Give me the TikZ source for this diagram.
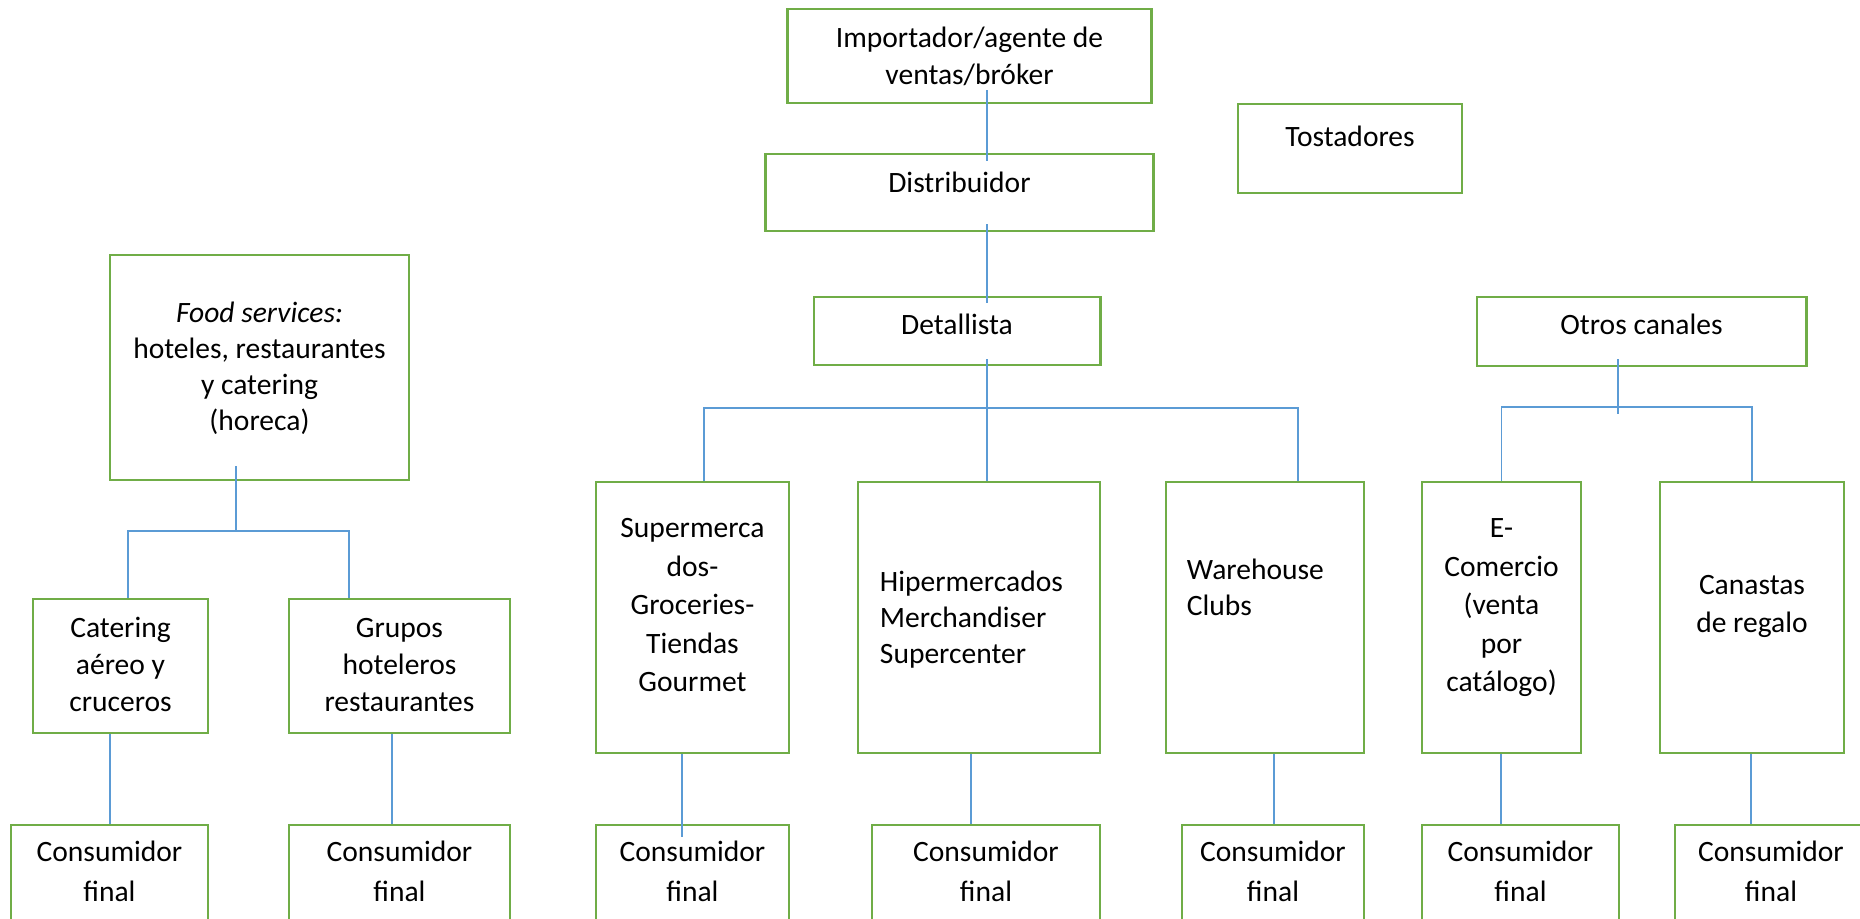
\documentclass[tikz,border=0pt]{standalone}
\usepackage{fontspec}
\setmainfont{Carlito}
\definecolor{boxgreen}{HTML}{70AD47}
\definecolor{linkblue}{HTML}{5B9BD5}

\begin{document}
\begin{tikzpicture}[
        x=0.01cm, y=-0.01cm,
        box/.style={rectangle, draw=boxgreen, line width=0.8pt, inner xsep=0.1cm, inner ysep=0pt, align=flush center, font=\fontsize{8.4}{10.5}\selectfont},
        lead/.style={font=\fontsize{8.4}{#1}\selectfont},
        final/.style={box, text width=#1, text height=0.37cm, text depth=0.73cm, lead=11.1pt},
        link/.style={draw=linkblue, line width=0.4pt}
    ]
        % Frame
        \useasboundingbox (0,0) rectangle (1860,919);
        \clip (0,0) rectangle (1860,919);

        % Chain heads
        \node[box, text width=3.43cm, text height=0.39cm, text depth=0.55cm] (imp) at (969.5,56) {Importador/agente de\\ventas/bróker};
        \node[box, text width=3.67cm, text height=0.39cm, text depth=0.38cm] (dist) at (959.5,192.5) {Distribuidor};
        \node[box, text width=2.04cm, text height=0.43cm, text depth=0.46cm] (tost) at (1350,148.5) {Tostadores};
        \node[box, text width=2.66cm, text height=0.38cm, text depth=0.30cm] (det) at (957,331) {Detallista};
        \node[box, text width=3.09cm, text height=0.38cm, text depth=0.31cm] (otros) at (1641.5,331.5) {Otros canales};
        \node[box, lead=10.15pt, text width=2.79cm, text height=0.68cm, text depth=1.57cm] (food) at (259.5,367.5) {\textit{Food services:}\\hoteles, restaurantes\\y catering\\(horeca)};

        % Channels
        \node[box, text width=1.55cm, text height=0.39cm, text depth=0.95cm] (cat) at (120.5,666) {Catering\\aéreo y\\cruceros};
        \node[box, text width=2.01cm, text height=0.39cm, text depth=0.95cm] (grupos) at (399.5,666) {Grupos\\hoteleros\\restaurantes};
        \node[box, lead=10.95pt, text width=1.73cm, text height=0.56cm, text depth=2.15cm] (super) at (692.5,617.5) {Supermerca\\dos-\\Groceries-\\Tiendas\\Gourmet};
        \node[box, lead=10.1pt, align=flush left, inner xsep=0.22cm, text width=1.98cm, text height=1.10cm, text depth=1.61cm] (hiper) at (979,617.5) {Hipermercados\\Merchandiser\\Supercenter};
        \node[box, lead=10pt, align=flush left, inner xsep=0.21cm, text width=1.56cm, text height=0.98cm, text depth=1.73cm] (ware) at (1265,617.5) {Warehouse\\Clubs};
        \node[box, lead=10.95pt, text width=1.39cm, text height=0.56cm, text depth=2.15cm] (ecom) at (1501.5,617.5) {E-\\Comercio\\(venta\\por\\catálogo)};
        \node[box, lead=10.8pt, text width=1.64cm, text height=1.13cm, text depth=1.58cm] (canastas) at (1752,617.5) {Canastas\\de regalo};

        % Final consumers
        \foreach \n/\x/\w in {1/109.5/1.77cm, 2/399.5/2.01cm, 3/692.5/1.73cm, 4/986/2.08cm, 5/1273/1.62cm, 6/1520.5/1.77cm, 7/1771/1.72cm}
            \node[final=\w] (cons\n) at (\x,880) {Consumidor\\final};

        % Trunk
        \draw[link, shorten <=-0.14cm, shorten >=-0.08cm] (imp.south -| 987,0) -- (dist.north -| 987,0);
        \draw[link, shorten <=-0.08cm, shorten >=-0.07cm] (dist.south -| 987,0) -- (det.north -| 987,0);
        \draw[link, shorten <=-0.07cm] (det.south -| 987,0) -- (hiper.north -| 987,0);
        \draw[link] (super.north -| 704,0) -- (704,408) -- (1298,408) -- (ware.north -| 1298,0);

        % Food services branch
        \draw[link, shorten <=-0.15cm] (food.south -| 236,0) -- (236,531);
        \draw[link] (cat.north -| 128,0) -- (128,531) -- (349,531) -- (grupos.north -| 349,0);

        % Other channels branch
        \draw[link, shorten <=-0.08cm] (otros.south -| 1618,0) -- (1618,414);
        \draw[link] (ecom.north) -- (ecom.north |- 0,407) -- (canastas.north |- 0,407) -- (canastas.north);

        % Down to the consumer
        \foreach \up/\k/\x/\ext in {cat/1/110/0pt, grupos/2/392/0pt, super/3/682/-0.13cm, hiper/4/971/0pt, ware/5/1274/0pt, ecom/6/1501/0pt, canastas/7/1751/0pt}
            \draw[link, shorten >=\ext] (\up.south -| \x,0) -- (cons\k.north -| \x,0);
\end{tikzpicture}
\end{document}
